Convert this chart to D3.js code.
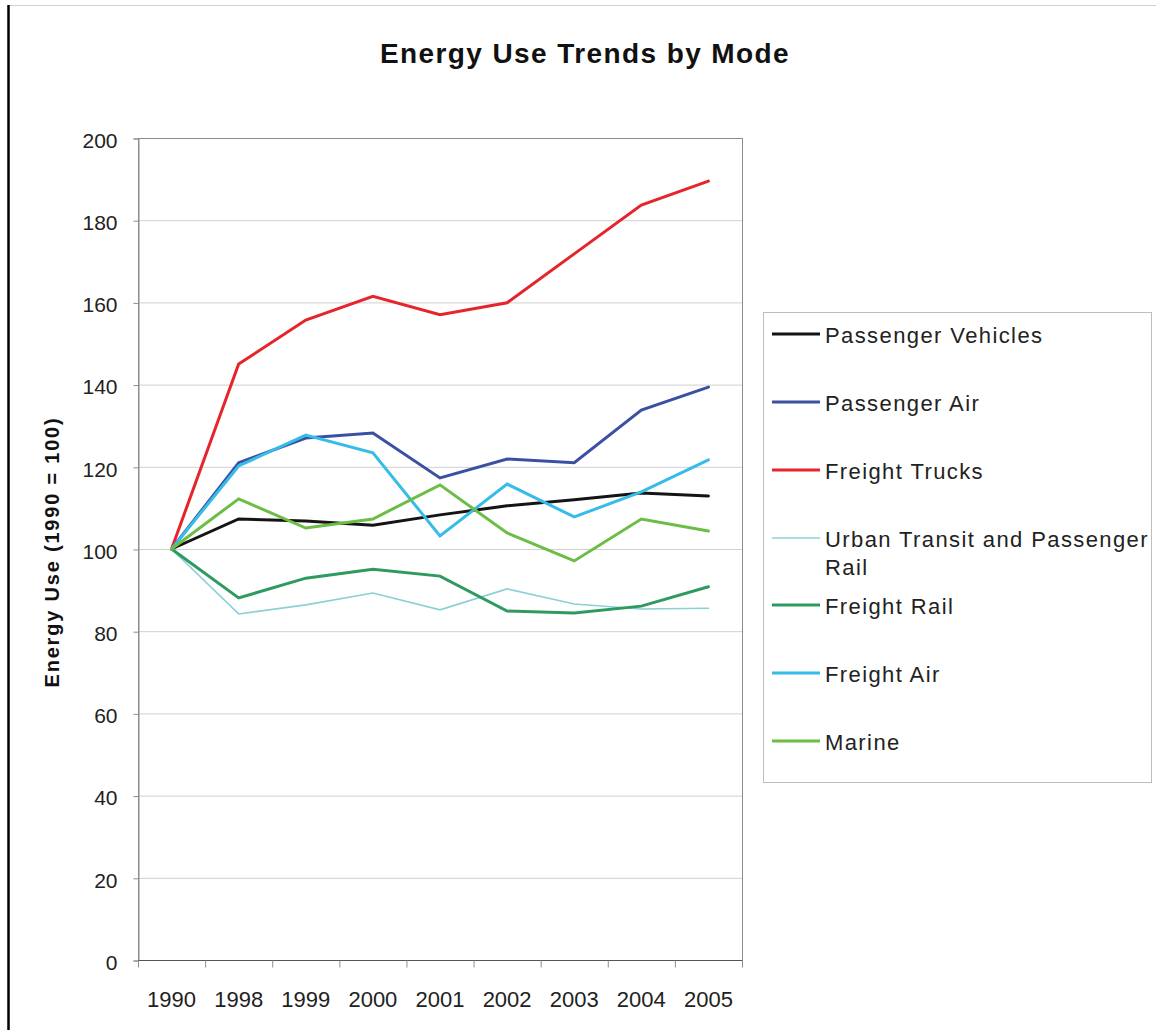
<!DOCTYPE html>
<html><head><meta charset="utf-8">
<script src="https://cdn.jsdelivr.net/npm/d3@7"></script>
<style>body{margin:0;background:#fff}svg{display:block}</style>
</head><body>
<svg id="c" width="1156" height="1030"></svg>
<script>
const years = ["1990","1998","1999","2000","2001","2002","2003","2004","2005"];
const yTicks = [0,20,40,60,80,100,120,140,160,180,200];
const passengerVehicles = [100,107.3,106.8,105.8,108.3,110.5,112,113.6,112.9];
const passengerAir = [100,121,127,128.2,117.3,121.9,121,133.8,139.4];
const freightTrucks = [100,145,155.7,161.5,157,159.9,171.8,183.7,189.5];
const urbanTransit = [100,84.2,86.4,89.3,85.2,90.3,86.6,85.4,85.6];
const freightRail = [100,88.1,92.9,95.1,93.4,84.9,84.4,86.1,90.8];
const freightAir = [100,120.2,127.7,123.4,103.2,115.8,107.8,113.9,121.7];
const marine = [100,112.2,105.1,107.3,115.6,103.9,97.1,107.3,104.4];
const seriesNames = ["Passenger Vehicles","Passenger Air","Freight Trucks","Urban Transit and Passenger Rail","Freight Rail","Freight Air","Marine"];

const series = [
  {name:seriesNames[0], values:passengerVehicles, color:"#141414", w:3},
  {name:seriesNames[1], values:passengerAir, color:"#3b50a3", w:3},
  {name:seriesNames[2], values:freightTrucks, color:"#e5252b", w:3},
  {name:seriesNames[3], values:urbanTransit, color:"#8ad0d6", w:1.6},
  {name:seriesNames[4], values:freightRail, color:"#2f9a60", w:3},
  {name:seriesNames[5], values:freightAir, color:"#36bce8", w:3},
  {name:seriesNames[6], values:marine, color:"#6cbd45", w:3}
];

const svg = d3.select("#c");
const font = "'Liberation Sans', Arial, sans-serif";
const L=138, R=742, T=138, B=960;

// outer frame
svg.append("line").attr("x1",8).attr("x2",1156).attr("y1",5.5).attr("y2",5.5).attr("stroke","#d0d0d0").attr("stroke-width",1);
svg.append("line").attr("x1",8.5).attr("x2",8.5).attr("y1",5).attr("y2",1030).attr("stroke","#000").attr("stroke-width",2.5);

const x = d3.scaleBand().domain(years).range([L,R]);
const y = d3.scaleLinear().domain([0,200]).range([B,T]);

// gridlines
svg.append("g").selectAll("line").data(yTicks.filter(d=>d>0&&d<200)).join("line")
  .attr("x1",L).attr("x2",R).attr("y1",d=>y(d)+0.5).attr("y2",d=>y(d)+0.5)
  .attr("stroke","#cfcfcf").attr("stroke-width",1);

// plot frame
svg.append("rect").attr("x",L+0.5).attr("y",T+0.5).attr("width",R-L).attr("height",B-T)
  .attr("fill","none").attr("stroke","#8c8c8c").attr("stroke-width",1);

// y axis
const yAxis = d3.axisLeft(y).tickValues(yTicks).tickSize(5).tickPadding(16);
const gy = svg.append("g").attr("transform",`translate(${L+0.5},0.5)`).call(yAxis);
gy.select(".domain").attr("stroke","#8c8c8c");
gy.selectAll(".tick line").attr("stroke","#8c8c8c");
gy.selectAll("text").attr("font-family",font).attr("font-size",21).attr("fill","#222").attr("dy","0.42em");

// x axis: ticks at band boundaries
const gx = svg.append("g").attr("transform",`translate(0,${B+0.5})`);
gx.append("line").attr("x1",L).attr("x2",R).attr("stroke","#555").attr("stroke-width",1.2);
const bounds = years.map(d=>x(d)).concat([R]);
gx.selectAll("line.t").data(bounds).join("line").attr("class","t")
  .attr("x1",d=>d+0.5).attr("x2",d=>d+0.5).attr("y1",0).attr("y2",7).attr("stroke","#8c8c8c");
gx.selectAll("text").data(years).join("text")
  .attr("x",d=>x(d)+x.bandwidth()/2).attr("y",46)
  .attr("text-anchor","middle").attr("font-family",font).attr("font-size",22).attr("fill","#222")
  .text(d=>d);

// lines
const line = d3.line().x((d,i)=>x(years[i])+x.bandwidth()/2).y(d=>y(d));
svg.append("g").selectAll("path").data(series).join("path")
  .attr("d",d=>line(d.values)).attr("fill","none")
  .attr("stroke",d=>d.color).attr("stroke-width",d=>d.w)
  .attr("stroke-linejoin","miter").attr("stroke-linecap","round");

// title
svg.append("text").attr("x",585).attr("y",63).attr("text-anchor","middle")
  .attr("font-family",font).attr("font-weight","bold").attr("font-size",28).attr("letter-spacing","1.4px").attr("fill","#111")
  .text("Energy Use Trends by Mode");

// y label
svg.append("text").attr("transform",`translate(59,552) rotate(-90)`).attr("text-anchor","middle")
  .attr("font-family",font).attr("font-weight","bold").attr("font-size",20).attr("letter-spacing","1.8px").attr("fill","#111")
  .text("Energy Use (1990 = 100)");

// legend
svg.append("rect").attr("x",763.5).attr("y",312.5).attr("width",388).attr("height",470)
  .attr("fill","#fff").attr("stroke","#bdbdbd").attr("stroke-width",1);
const rowY = [334,402,470,538,605,673,741];
const lg = svg.append("g").selectAll("g").data(series).join("g")
  .attr("transform",(d,i)=>`translate(0,${rowY[i]})`);
lg.append("line").attr("x1",772).attr("x2",820).attr("y1",0).attr("y2",0)
  .attr("stroke",d=>d.color).attr("stroke-width",d=>d.w);
lg.each(function(d){
  const g = d3.select(this);
  const parts = d.name==="Urban Transit and Passenger Rail" ? ["Urban Transit and Passenger","Rail"] : [d.name];
  parts.forEach((p,j)=>{
    g.append("text").attr("x",825).attr("y",9+j*28)
      .attr("font-family",font).attr("font-size",22).attr("letter-spacing","1.4px").attr("fill","#222")
      .text(p);
  });
});
</script>
</body></html>
